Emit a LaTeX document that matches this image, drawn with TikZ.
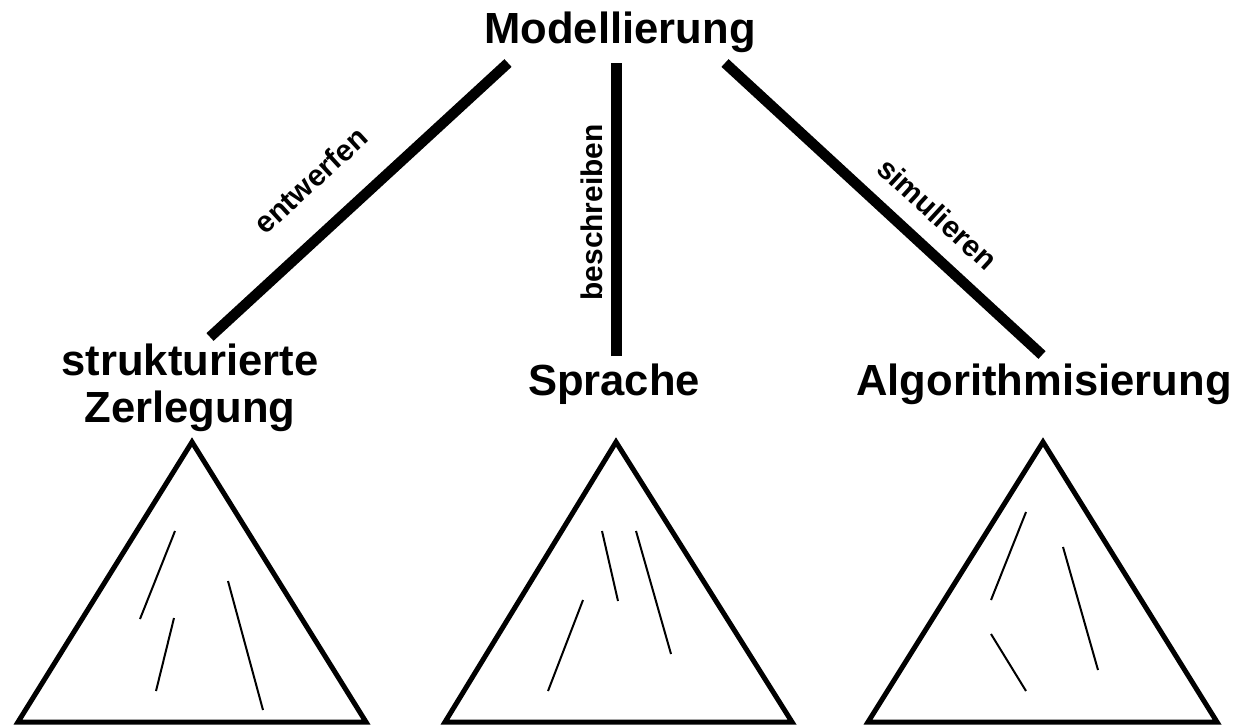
\documentclass[tikz,border=0pt]{standalone}
\usepackage{fontspec}
\setmainfont{Liberation Sans}

\begin{document}
\begin{tikzpicture}[
	title/.style={font=\fontsize{12.4}{13.4}\selectfont\bfseries, inner sep=0pt, align=center},
	lbl/.style={font=\fontsize{8.5}{10}\selectfont\bfseries, inner sep=0pt, sloped},
	conn/.style={line width=0.105cm},
	tri/.style={line width=0.05cm, line join=miter},
	scratch/.style={line width=0.02cm}]
		\useasboundingbox (0, 0) rectangle (12.51, 7.26);
		\node(MOD) at (6.20, 6.83)[title, anchor=base]{Modellierung};
		\node(ZER) at (1.90, 3.38)[title]{strukturierte\\Zerlegung};
		\node(SPR) at (6.14, 3.31)[title, anchor=base]{Sprache};
		\node(ALG) at (10.44, 3.31)[title, anchor=base]{Algorithmisierung};
		\coordinate(M1) at (5.08, 6.63);
		\coordinate(M2) at (6.165, 6.63);
		\coordinate(M3) at (7.25, 6.63);
		\coordinate(Z1) at (2.10, 3.89);
		\coordinate(S1) at (6.165, 3.70);
		\coordinate(A1) at (10.42, 3.71);
		\draw[conn] (Z1)--node[lbl, pos=0.445, above=0.31cm]{entwerfen}(M1);
		\draw[conn] (S1)--node[lbl, pos=0.49, above=0.085cm]{beschreiben}(M2);
		\draw[conn] (M3)--node[lbl, pos=0.60, above=0.17cm]{simulieren}(A1);
		% Dreiecke
		\draw[tri] (0.18, 0.04)--(1.92, 2.84)--(3.66, 0.04)--cycle;
		\draw[tri] (4.45, 0.04)--(6.16, 2.84)--(7.92, 0.04)--cycle;
		\draw[tri] (8.68, 0.04)--(10.43, 2.84)--(12.17, 0.04)--cycle;
		\draw[scratch] (1.75, 1.95)--(1.40, 1.07) (1.74, 1.08)--(1.56, 0.35) (2.28, 1.45)--(2.63, 0.16);
		\draw[scratch] (6.02, 1.95)--(6.18, 1.25) (6.36, 1.95)--(6.71, 0.72) (5.83, 1.26)--(5.48, 0.35);
		\draw[scratch] (10.26, 2.14)--(9.91, 1.26) (10.63, 1.79)--(10.98, 0.56) (9.91, 0.92)--(10.26, 0.35);
\end{tikzpicture}
\end{document}
